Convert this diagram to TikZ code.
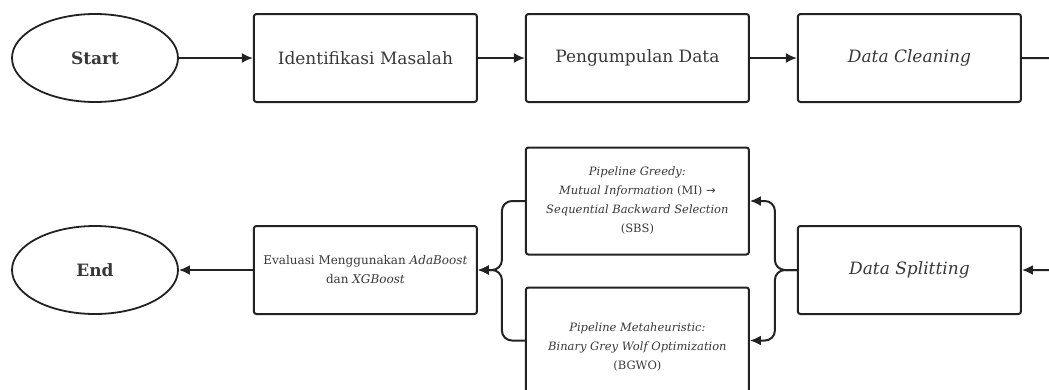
\documentclass[tikz,border=0pt]{standalone}
\usepackage{fontspec}
\setmainfont{DejaVu Serif}
\newfontfamily\arrowfont{DejaVu Sans}
\usetikzlibrary{arrows.meta, positioning, shapes.geometric}

\definecolor{linegray}{HTML}{222222}
\definecolor{textgray}{HTML}{383838}

\newcommand{\bigtxt}{\fontsize{17}{20}\selectfont}
\newcommand{\midtxt}{\fontsize{12}{19}\selectfont}
\newcommand{\smalltxt}{\fontsize{11.5}{19}\selectfont}

\begin{document}
\begin{tikzpicture}[x=1pt, y=-1pt,
    node distance=47pt,
    flowline/.style={draw=linegray, line width=2pt},
    arrowline/.style={flowline, -{Latex[length=11pt, width=10pt]}},
    procbox/.style={draw=linegray, line width=2pt, rounded corners=2.5pt,
        minimum width=223pt, minimum height=88pt, inner sep=2pt,
        align=center, text=textgray, font=\bigtxt},
    pipebox/.style={procbox, minimum height=107pt, font=\smalltxt},
    terminal/.style={ellipse, draw=linegray, line width=1.8pt,
        minimum width=166pt, minimum height=88pt, text=textgray,
        font=\bigtxt\bfseries}
]
    \useasboundingbox (0,0) rectangle (1049,389);
    \clip (0,0) rectangle (1049,389);

    % top row
    \node[terminal] (start) at (95,58) {Start};
    \node[procbox, right=74pt of start] (ident) {Identifikasi Masalah};
    \node[procbox, right=of ident] (collect) {Pengumpulan Data};
    \node[procbox, right=of collect] (clean) {\textit{Data Cleaning}};

    % bottom row, built from the right
    \node[procbox, below=122pt of clean] (split) {\textit{Data Splitting}};
    \node[pipebox, left=of split, yshift=69pt] (greedy) {\textit{Pipeline Greedy:}\\
        \textit{Mutual Information} (MI) {\arrowfont →}\\
        \textit{Sequential Backward Selection}\\(SBS)};
    \node[pipebox, below=31pt of greedy, minimum height=120pt] (meta) {\textit{Pipeline Metaheuristic:}\\
        \textit{Binary Grey Wolf Optimization}\\(BGWO)};
    \node[procbox, left=of greedy, yshift=-69pt, font=\midtxt] (eval) {Evaluasi Menggunakan \textit{AdaBoost}\\dan \textit{XGBoost}};
    \node[terminal, left=74pt of eval] (end) {End};

    % arrows along the top
    \draw[arrowline] (start) -- (ident);
    \draw[arrowline] (ident) -- (collect);
    \draw[arrowline] (collect) -- (clean);
    \draw[arrowline, rounded corners=12pt] (clean.east) -- ++(47,0) |- (split.east);

    % split into the two pipelines
    \draw[arrowline, rounded corners=10pt] (split.west) -- ++(-22,0) |- (greedy.east);
    \draw[arrowline, rounded corners=10pt] (split.west) -- ++(-22,0) |- ([yshift=7pt]meta.east);

    % merge into evaluation
    \draw[arrowline, rounded corners=10pt] (greedy.west) -- ++(-23,0) |- (eval.east);
    \draw[arrowline, rounded corners=10pt] ([yshift=7pt]meta.west) -- ++(-23,0) |- (eval.east);
    \draw[arrowline] (eval) -- (end);
\end{tikzpicture}
\end{document}
